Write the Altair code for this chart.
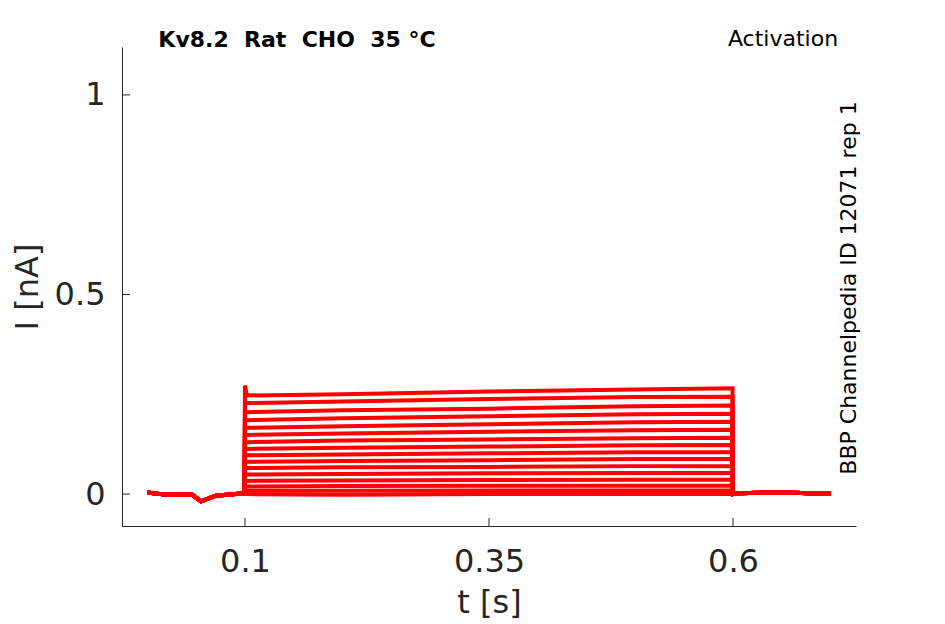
import altair as alt
import pandas as pd

# ---- data ----
# protocol time points (s)
times_pre = [0.0, 0.02, 0.045, 0.055, 0.07, 0.0995]
base_pre = [0.004, -0.002, 0.0, -0.018, -0.004, 0.002]
times_step = [0.1, 0.102, 0.2, 0.35, 0.5, 0.5995]
times_post = [0.6, 0.602, 0.65, 0.7]
base_post = [0.0, 0.002, 0.004, 0.001]

# step current level of each sweep (nA) at the listed step times
step_levels = [
    [0.272, 0.247, 0.250, 0.257, 0.262, 0.265],
    [0.232, 0.228, 0.232, 0.238, 0.243, 0.244],
    [0.208, 0.205, 0.210, 0.214, 0.220, 0.222],
    [0.188, 0.185, 0.190, 0.195, 0.200, 0.201],
    [0.168, 0.166, 0.170, 0.175, 0.180, 0.181],
    [0.150, 0.148, 0.152, 0.156, 0.160, 0.161],
    [0.132, 0.130, 0.134, 0.137, 0.140, 0.141],
    [0.115, 0.113, 0.116, 0.119, 0.122, 0.123],
    [0.098, 0.097, 0.099, 0.102, 0.105, 0.105],
    [0.082, 0.081, 0.083, 0.085, 0.088, 0.088],
    [0.066, 0.065, 0.067, 0.068, 0.070, 0.070],
    [0.050, 0.049, 0.050, 0.052, 0.053, 0.053],
    [0.034, 0.033, 0.034, 0.035, 0.036, 0.036],
    [0.020, 0.019, 0.020, 0.021, 0.021, 0.021],
    [0.008, 0.008, 0.008, 0.009, 0.009, 0.009],
    [0.000, 0.000, -0.002, 0.000, 0.000, 0.000],
]

x_ticks = [0.1, 0.35, 0.6]
x_labels = ["0.1", "0.35", "0.6"]
y_ticks = [0, 0.5, 1]
y_labels = ["0", "0.5", "1"]
x_domain = [-0.026, 0.726]
y_domain = [-0.08, 1.12]

NB = "\u00a0"
title_left = f"Kv8.2{NB} Rat{NB} CHO{NB} 35 °C"
title_right = "Activation"
side_text = "BBP Channelpedia ID 12071 rep 1"

# ---- build table ----
rows = []
for k, lev in enumerate(step_levels):
    seq = 0
    for t, v in zip(times_pre, base_pre):
        rows.append({"sweep": k, "seq": seq, "t": t, "I": v}); seq += 1
    for t, v in zip(times_step, lev):
        rows.append({"sweep": k, "seq": seq, "t": t, "I": v}); seq += 1
    for t, v in zip(times_post, base_post):
        rows.append({"sweep": k, "seq": seq, "t": t, "I": v}); seq += 1
df = pd.DataFrame(rows)

W, H = 734, 479
FONT = "DejaVu Sans"
AX = "#262626"

xscale = alt.Scale(domain=x_domain, nice=False, zero=False)
yscale = alt.Scale(domain=y_domain, nice=False, zero=False)


def label_expr(vals, labels):
    parts = " : ".join(f"datum.value == {v} ? '{l}'" for v, l in zip(vals, labels))
    return parts + " : ''"


lines = alt.Chart(df).mark_line(color="#ff0000", strokeWidth=4, clip=True).encode(
    x=alt.X("t:Q", scale=xscale,
            axis=alt.Axis(values=x_ticks, title="t [s]", ticks=False, grid=False,
                          labelFontSize=32, titleFontSize=32, labelPadding=20,
                          titlePadding=10, labelColor=AX, titleColor=AX,
                          domainColor=AX, labelFont=FONT, titleFont=FONT,
                          titleFontWeight="normal",
                          labelExpr=label_expr(x_ticks, x_labels))),
    y=alt.Y("I:Q", scale=yscale,
            axis=alt.Axis(values=y_ticks, title="I [nA]", ticks=False, grid=False,
                          labelFontSize=32, titleFontSize=32, labelPadding=17,
                          titlePadding=10, labelColor=AX, titleColor=AX,
                          domainColor=AX, labelFont=FONT, titleFont=FONT,
                          titleFontWeight="normal",
                          labelExpr=label_expr(y_ticks, y_labels))),
    detail="sweep:N",
    order="seq:Q",
)

xt = alt.Chart(pd.DataFrame({"t": x_ticks})).mark_rule(color=AX, strokeWidth=1).encode(
    x=alt.X("t:Q", scale=xscale), y=alt.value(H), y2=alt.value(H - 8))
yt = alt.Chart(pd.DataFrame({"I": y_ticks})).mark_rule(color=AX, strokeWidth=1).encode(
    y=alt.Y("I:Q", scale=yscale), x=alt.value(0), x2=alt.value(8))

t1 = alt.Chart(pd.DataFrame({"s": [title_left]})).mark_text(
    font=FONT, fontSize=22, fontWeight="bold", color="#000000", align="center", baseline="middle"
).encode(text="s:N", x=alt.value(175), y=alt.value(-7))
t2 = alt.Chart(pd.DataFrame({"s": [title_right]})).mark_text(
    font=FONT, fontSize=22, color="#000000", align="center", baseline="middle"
).encode(text="s:N", x=alt.value(661), y=alt.value(-8))
t3 = alt.Chart(pd.DataFrame({"s": [side_text]})).mark_text(
    font=FONT, fontSize=22, color="#000000", align="center", baseline="middle", angle=270
).encode(text="s:N", x=alt.value(727), y=alt.value(241))

chart = alt.layer(lines, xt, yt, t1, t2, t3).properties(
    width=W, height=H,
    autosize=alt.AutoSizeParams(type="none"),
    padding={"left": 114, "top": 39, "right": 80, "bottom": 97},
    background="white",
).configure_view(stroke=None)

chart.save("out.html", embed_options={"renderer": "svg", "actions": False})
